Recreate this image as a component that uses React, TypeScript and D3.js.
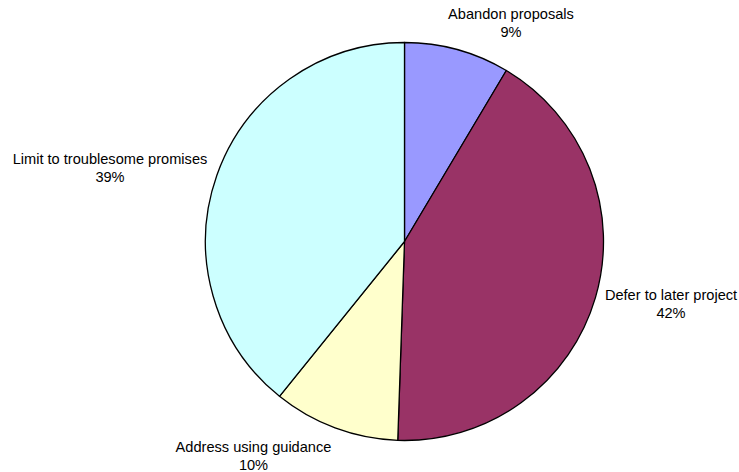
import React from "react";
import * as d3 from "d3";

const categories = ["Abandon proposals", "Defer to later project", "Address using guidance", "Limit to troublesome promises"];
const values = [8.55, 41.99, 10.27, 39.19];
const percentLabels = ["9%", "42%", "10%", "39%"];
const colors = ["#9999FF", "#993366", "#FFFFCC", "#CCFFFF"];
const labelPositions: [number, number][] = [
  [511, 19],
  [671, 300],
  [253.5, 452],
  [110, 164],
];

export default function App() {
  const W = 739, H = 472;
  const cx = 404.5, cy = 241.5, r = 199;
  const pie = d3.pie<number>().sort(null).value((d) => d);
  const arcs = pie(values);
  const arc = d3.arc<d3.PieArcDatum<number>>().innerRadius(0).outerRadius(r);
  return (
    <svg width={W} height={H} style={{ position: "absolute", left: 0, top: 0, background: "#fff" }}>
      <g transform={`translate(${cx},${cy})`}>
        {arcs.map((a, i) => (
          <path key={i} d={arc(a) || ""} fill={colors[i]} stroke="#000" strokeWidth={1.3} strokeLinejoin="round" />
        ))}
      </g>
      {categories.map((c, i) => (
        <text key={c} x={labelPositions[i][0]} y={labelPositions[i][1]} textAnchor="middle"
          fontFamily="'Liberation Sans', Arial, sans-serif" fontSize={14.6} fill="#000">
          <tspan x={labelPositions[i][0]}>{c}</tspan>
          <tspan x={labelPositions[i][0]} dy={17.5}>{percentLabels[i]}</tspan>
        </text>
      ))}
    </svg>
  );
}
